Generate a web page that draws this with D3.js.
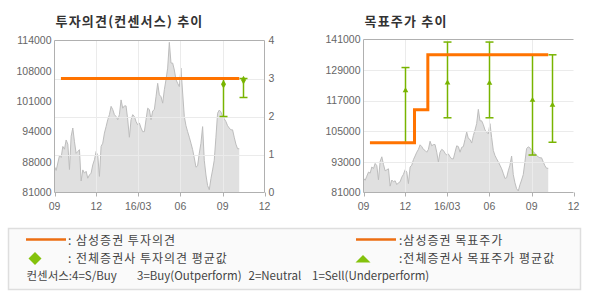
<!DOCTYPE html>
<html>
<head>
<meta charset="utf-8">
<script src="https://cdn.jsdelivr.net/npm/d3@7"></script>
<style>
body { margin: 0; background: #fff; }
svg { display: block; font-family: "Liberation Sans", Arial, sans-serif; }
</style>
</head>
<body>
<div id="chart"></div>
<script>
// chart size
var width = 590
    height = 300

// share price, sampled evenly between priceStart and priceEnd
var priceStart = "2015-09-01"
var priceEnd = "2016-10-07"
var priceValues = [
  86600, 85800, 87400, 89000, 88600, 91000, 90400, 92400, 91500, 86000,
  93200, 95000, 92000, 89500, 89900, 90300, 83500, 85900, 85200, 85600,
  84100, 84800, 85200, 87000, 88100, 89900, 89000, 84500, 91000, 91700,
  93900, 95300, 96800, 97900, 99700, 99000, 97900, 97500, 96800, 97900,
  101100, 99300, 99800, 99800, 96800, 93000, 96800, 97900, 97500, 96400,
  95700, 96100, 95000, 94200, 94200, 96800, 99300, 99000, 96800, 98700,
  99000, 101800, 104700, 102200, 101800, 100400, 103300, 105500, 108000, 113600,
  109100, 109100, 107600, 105500, 104700, 104000, 108000, 102600, 97500, 95500,
  94200, 93000, 91700, 90300, 88500, 86500, 86800, 89500, 91700, 95300,
  88000, 84800, 82500, 81600, 84000, 85900, 88000, 93000, 98200, 98900,
  98500, 97500, 97000, 96400, 95500, 95000, 94600, 94600, 93000, 91500,
  90500, 90500
]

// x axis
var tickDates = ["2015-09-01", "2015-12-01", "2016-03-01", "2016-06-01", "2016-09-01", "2016-12-01"]
var tickLabels = ["09", "12", "16/03", "06", "09", "12"]

// left chart: investment opinion (consensus)
var opinionDates = ["2015-09-15", "2016-10-07"]
var opinionValues = [3, 3]
var opinionAvgDates = ["2016-09-01", "2016-10-16"]
var opinionAvg = [2.85, 2.96]
var opinionHigh = [3, 3]
var opinionLow = [2, 2.5]
var opinionTicks = [0, 1, 2, 3, 4]
var leftPriceLabels = ["81000", "88000", "94000", "101000", "108000", "114000"]

// right chart: target price
var targetDates = ["2015-09-15", "2015-12-21", "2016-01-19", "2016-10-07"]
var targetValues = [100500, 113500, 135000, 135000]
var targetAvgDates = ["2015-12-01", "2016-03-01", "2016-06-01", "2016-09-01", "2016-10-16"]
var targetAvg = [121000, 124000, 123900, 117200, 115300]
var targetHigh = [130000, 140000, 140000, 135000, 135000]
var targetLow = [100500, 110300, 110300, 95700, 100700]
var rightPriceTicks = [81000, 93000, 105000, 117000, 129000, 141000]

// legend
var legendNotes = ["컨센서스:4=S/Buy", "3=Buy(Outperform)", "2=Neutral", "1=Sell(Underperform)"]

var parse = d3.timeParse("%Y-%m-%d")
var orange = "#ff7300"
var green = "#78b400"

var t0 = parse(priceStart), t1 = parse(priceEnd)
var price = priceValues.map(function(v, i) {
    return { date: new Date(+t0 + (t1 - t0) * i / (priceValues.length - 1)), value: v }
})

var svg = d3.select("#chart")
    .append("svg")
        .attr("width", width)
        .attr("height", height)

function panel(left, top, right, bottom, priceDomain, title) {
    var g = svg.append("g")
    var x = d3.scaleTime()
        .domain([parse(tickDates[0]), parse(tickDates[tickDates.length - 1])])
        .range([left, right])
    var yp = d3.scaleLinear().domain(priceDomain).range([bottom, top])

    // price area
    g.append("path")
        .datum(price)
        .attr("d", d3.area()
            .x(function(d) { return x(d.date) })
            .y0(bottom)
            .y1(function(d) { return yp(d.value) }))
        .attr("fill", "#e0e0e0")
    g.append("path")
        .datum(price)
        .attr("d", d3.line()
            .x(function(d) { return x(d.date) })
            .y(function(d) { return yp(d.value) }))
        .attr("fill", "none")
        .attr("stroke", "#bdbdbd")
        .attr("stroke-width", 1)

    // vertical grid
    g.selectAll("vgrid")
        .data(tickDates.slice(1, -1))
        .enter()
        .append("line")
            .attr("x1", function(d) { return Math.round(x(parse(d))) + 0.5 })
            .attr("x2", function(d) { return Math.round(x(parse(d))) + 0.5 })
            .attr("y1", top)
            .attr("y2", bottom)
            .attr("stroke", "#ebebeb")

    // x ticks + labels
    g.selectAll("xtick")
        .data(tickDates)
        .enter()
        .append("line")
            .attr("x1", function(d) { return Math.round(x(parse(d))) + 0.5 })
            .attr("x2", function(d) { return Math.round(x(parse(d))) + 0.5 })
            .attr("y1", bottom)
            .attr("y2", bottom + 4)
            .attr("stroke", "#b0b0b0")
    g.selectAll("xlab")
        .data(tickDates)
        .enter()
        .append("text")
            .attr("x", function(d) { return x(parse(d)) })
            .attr("y", bottom + 17)
            .attr("text-anchor", "middle")
            .attr("font-size", "10.5px")
            .attr("fill", "#666")
            .text(function(d, i) { return tickLabels[i] })

    g.append("text")
        .attr("x", left + 1)
        .attr("y", 26)
        .attr("font-family", "'Noto Sans CJK KR', sans-serif")
        .attr("font-weight", "bold")
        .attr("font-size", "13px")
        .attr("letter-spacing", "1.2px")
        .attr("fill", "#333")
        .text(title)

    return { g: g, x: x, yp: yp }
}

function errorBars(g, x, y, dates, lo, hi, avg, symbol, size) {
    dates.forEach(function(d, i) {
        var cx = Math.round(x(parse(d))) + 0.5
        g.append("line")
            .attr("x1", cx).attr("x2", cx)
            .attr("y1", y(lo[i])).attr("y2", y(hi[i]))
            .attr("stroke", green).attr("stroke-width", 1.5)
        ;[lo[i], hi[i]].forEach(function(v) {
            g.append("line")
                .attr("x1", cx - 4).attr("x2", cx + 4)
                .attr("y1", y(v)).attr("y2", y(v))
                .attr("stroke", green).attr("stroke-width", 1.5)
        })
        g.append("path")
            .attr("d", d3.symbol().type(symbol).size(size)())
            .attr("transform", "translate(" + cx + "," + y(avg[i]) + ")")
            .attr("fill", green)
    })
}

// ---- left chart: opinion ----
var L = { left: 54.5, top: 40.5, right: 264.5, bottom: 192.5 }
var pl = panel(L.left, L.top, L.right, L.bottom, [81000, 114000], "투자의견(컨센서스) 추이")
var yo = d3.scaleLinear().domain([0, 4]).range([L.bottom, L.top])
var yLab = d3.scaleLinear().domain([0, leftPriceLabels.length - 1]).range([L.bottom, L.top])

pl.g.selectAll("hgrid")
    .data(opinionTicks.slice(1, -1))
    .enter()
    .append("line")
        .attr("x1", L.left).attr("x2", L.right)
        .attr("y1", function(d) { return Math.round(yo(d)) + 0.5 })
        .attr("y2", function(d) { return Math.round(yo(d)) + 0.5 })
        .attr("stroke", "#ebebeb")

pl.g.selectAll("ylabL")
    .data(leftPriceLabels)
    .enter()
    .append("text")
        .attr("x", L.left - 3)
        .attr("y", function(d, i) { return yLab(i) })
        .attr("dy", "0.35em")
        .attr("text-anchor", "end")
        .attr("font-size", "10.5px")
        .attr("fill", "#666")
        .text(function(d) { return d })
pl.g.selectAll("ylabR")
    .data(opinionTicks)
    .enter()
    .append("text")
        .attr("x", L.right + 4)
        .attr("y", function(d) { return yo(d) })
        .attr("dy", "0.35em")
        .attr("font-size", "10.5px")
        .attr("fill", "#666")
        .text(function(d) { return d })

errorBars(pl.g, pl.x, yo, opinionAvgDates, opinionLow, opinionHigh, opinionAvg, d3.symbolDiamond, 22)

pl.g.append("path")
    .datum(opinionDates.map(function(d, i) { return { date: parse(d), value: opinionValues[i] } }))
    .attr("d", d3.line()
        .x(function(d) { return pl.x(d.date) })
        .y(function(d) { return yo(d.value) }))
    .attr("fill", "none")
    .attr("stroke", orange)
    .attr("stroke-width", 3)

pl.g.append("path")
    .attr("d", "M" + L.left + "," + L.top + "H" + L.right + "V" + L.bottom + "H" + L.left + "Z")
    .attr("fill", "none")
    .attr("stroke", "#b0b0b0")

// ---- right chart: target price ----
var R = { left: 363.5, top: 39.5, right: 573.5, bottom: 192.5 }
var pr = panel(R.left, R.top, R.right, R.bottom, [81000, 141000], "목표주가 추이")

pr.g.selectAll("hgrid")
    .data(rightPriceTicks.slice(1, -1))
    .enter()
    .append("line")
        .attr("x1", R.left).attr("x2", R.right)
        .attr("y1", function(d) { return Math.round(pr.yp(d)) + 0.5 })
        .attr("y2", function(d) { return Math.round(pr.yp(d)) + 0.5 })
        .attr("stroke", "#ebebeb")

pr.g.selectAll("ylab")
    .data(rightPriceTicks)
    .enter()
    .append("text")
        .attr("x", R.left - 3)
        .attr("y", function(d) { return pr.yp(d) })
        .attr("dy", "0.35em")
        .attr("text-anchor", "end")
        .attr("font-size", "10.5px")
        .attr("fill", "#666")
        .text(function(d) { return d })

errorBars(pr.g, pr.x, pr.yp, targetAvgDates, targetLow, targetHigh, targetAvg, d3.symbolTriangle, 14)

pr.g.append("path")
    .datum(targetDates.map(function(d, i) { return { date: parse(d), value: targetValues[i] } }))
    .attr("d", d3.line()
        .curve(d3.curveStepAfter)
        .x(function(d) { return pr.x(d.date) })
        .y(function(d) { return pr.yp(d.value) }))
    .attr("fill", "none")
    .attr("stroke", orange)
    .attr("stroke-width", 3)

pr.g.append("path")
    .attr("d", "M" + R.right + "," + R.top + "H" + R.left + "V" + R.bottom + "H" + R.right)
    .attr("fill", "none")
    .attr("stroke", "#b0b0b0")

// ---- legend ----
var lg = svg.append("g")
    .attr("font-family", "'Noto Sans CJK KR', sans-serif")
    .attr("font-size", "12px")
    .attr("fill", "#444")

lg.append("rect")
    .attr("x", 8.5).attr("y", 228.5)
    .attr("width", 572).attr("height", 61)
    .attr("fill", "#fafafa")
    .attr("stroke", "#dedede")
    .attr("stroke-width", 1.5)

lg.append("line")
    .attr("x1", 26).attr("x2", 66).attr("y1", 239.5).attr("y2", 239.5)
    .attr("stroke", "#ec6e12").attr("stroke-width", 2.5)
lg.append("text").attr("x", 68).attr("y", 245).attr("letter-spacing", "1px").text(": 삼성증권 투자의견")

lg.append("path")
    .attr("d", "M35,252L41.5,258.5L35,265L28.5,258.5Z")
    .attr("fill", "#84c20c")
lg.append("text").attr("x", 68).attr("y", 263).attr("letter-spacing", "1px").text(": 전체증권사 투자의견 평균값")

lg.append("line")
    .attr("x1", 356).attr("x2", 396).attr("y1", 239.5).attr("y2", 239.5)
    .attr("stroke", "#ec6e12").attr("stroke-width", 2.5)
lg.append("text").attr("x", 399).attr("y", 245).attr("letter-spacing", "1px").text(":삼성증권 목표주가")

lg.append("path")
    .attr("d", "M363,255L370.5,262.5L355.5,262.5Z")
    .attr("fill", "#84c20c")
lg.append("text").attr("x", 399).attr("y", 263).attr("letter-spacing", "1px").text(":전체증권사 목표주가 평균값")

var noteX = [26.5, 137, 248.5, 312]
lg.selectAll("note")
    .data(legendNotes)
    .enter()
    .append("text")
        .attr("x", function(d, i) { return noteX[i] })
        .attr("y", 280)
        .attr("font-size", "11.5px")
        .text(function(d) { return d })
</script>
</body>
</html>
